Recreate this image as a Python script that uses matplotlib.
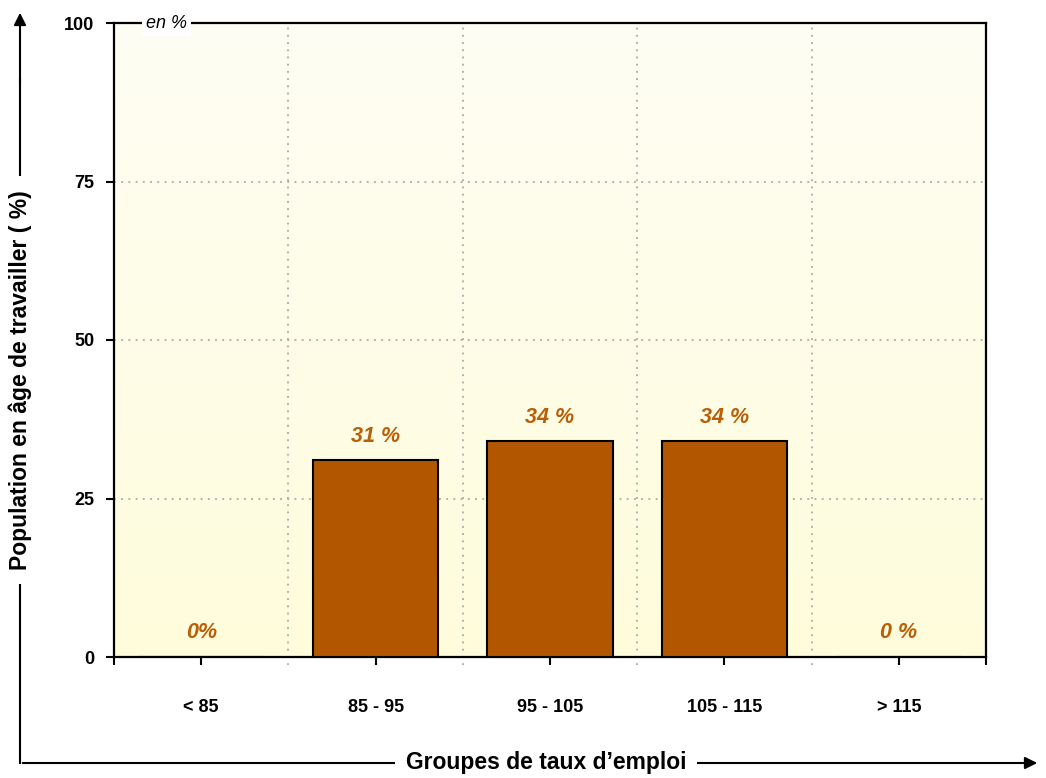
#! /usr/bin/env python

import numpy as np
import matplotlib.pyplot as plt
from matplotlib.colors import LinearSegmentedColormap

# data
categories = ["< 85", "85 - 95", "95 - 105", "105 - 115", "> 115"]
values = [0, 31, 34, 34, 0]
value_labels = ["0%", "31 %", "34 %", "34 %", "0 %"]
y_ticks = [0, 25, 50, 75, 100]

plt.rcParams['font.family'] = ['Liberation Sans', 'DejaVu Sans']

fig = plt.figure(figsize=(10.46, 7.78), dpi=100)
ax = fig.add_axes([114 / 1046, 1 - 657 / 778, 872 / 1046, 634 / 778])

x = np.arange(len(categories))

# pale yellow gradient background
cmap = LinearSegmentedColormap.from_list("bg", ["#FFFCDB", "#FEFEF4"])
grad = np.linspace(0, 1, 256).reshape(-1, 1)
ax.imshow(grad, cmap=cmap, origin='lower', aspect='auto',
          extent=[-0.5, len(categories) - 0.5, 0, 100], zorder=0)

ax.bar(x, values, width=0.72, color='#B25700', edgecolor='black',
       linewidth=1.5, zorder=3)

for xi, v, lab in zip(x, values, value_labels):
    ax.text(xi, v + 3.8, lab, ha='center', va='center', fontsize=15.5,
            fontweight='bold', fontstyle='italic', color='#B85F08', zorder=4)

# dotted grid
for yv in y_ticks[1:-1]:
    ax.axhline(yv, color='#A8A8A8', linestyle=(0, (1, 3)), linewidth=1.3, zorder=1)
for b in np.arange(0.5, len(categories) - 0.5, 1.0):
    ax.plot([b, b], [-1.3, 100], color='#A8A8A8', linestyle=(0, (1, 3)),
            linewidth=1.3, zorder=1, clip_on=False)

ax.set_xlim(-0.5, len(categories) - 0.5)
ax.set_ylim(0, 100)
ax.set_xticks(x)
ax.set_xticklabels(categories, fontsize=13, fontweight='bold')
ax.set_xticks([-0.5, len(categories) - 0.5], minor=True)
ax.tick_params(axis='x', which='both', length=6, width=1.5, direction='out', pad=24)
ax.set_yticks(y_ticks)
ax.set_yticklabels([str(t) for t in y_ticks], fontsize=13, fontweight='bold')
ax.tick_params(axis='y', length=6, width=1.5, direction='out', pad=8)

for s in ax.spines.values():
    s.set_linewidth(1.6)
    s.set_color('black')

ax.text(0.06, 1.0, "en %", transform=ax.transAxes, ha='center', va='center',
        fontsize=13, fontstyle='italic',
        bbox=dict(facecolor='white', edgecolor='none', pad=3), zorder=5)

# outer arrows with axis titles
ax_style = dict(arrowstyle='-|>', color='black', lw=1.5, mutation_scale=18)
fig.add_artist(plt.Line2D([20, 20], [15, 700], transform=None, color='black', lw=1.5))
ax.annotate("", xy=(20, 768), xytext=(20, 690), xycoords='figure pixels',
            textcoords='figure pixels', arrowprops=ax_style, annotation_clip=False)
ax.annotate("", xy=(1040, 15), xytext=(20, 15), xycoords='figure pixels',
            textcoords='figure pixels', arrowprops=ax_style, annotation_clip=False)

fig.text(20 / 1046, 1 - 380 / 778, "Population en âge de travailler ( %)",
         rotation=90, ha='center', va='center', fontsize=16.5, fontweight='bold',
         bbox=dict(facecolor='white', edgecolor='none', pad=10))
fig.text(546 / 1046, 15 / 778, "Groupes de taux d\u2019emploi",
         ha='center', va='center', fontsize=16.5, fontweight='bold',
         bbox=dict(facecolor='white', edgecolor='none', pad=8))

fig.savefig('out.png', dpi=100)
